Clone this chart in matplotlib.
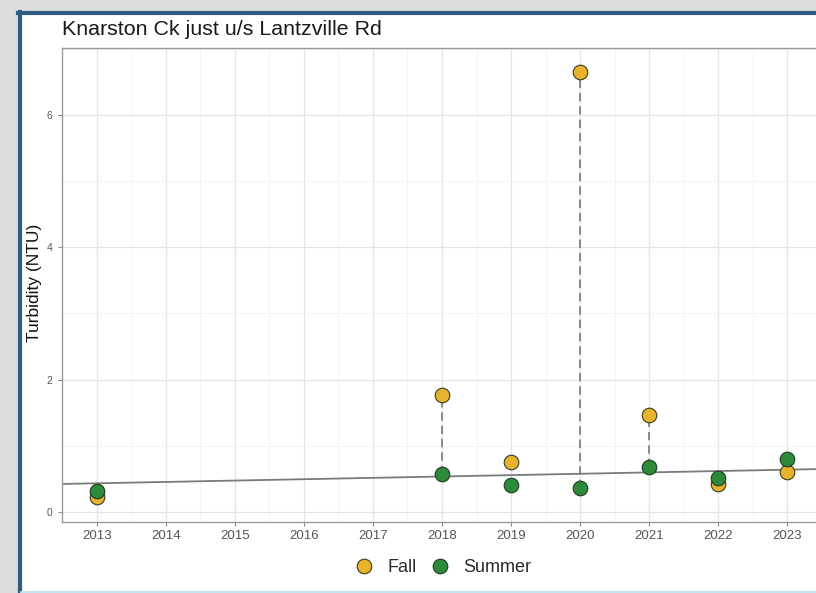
import numpy as np
import matplotlib
matplotlib.use("Agg")
import matplotlib.pyplot as plt
from matplotlib.lines import Line2D
from matplotlib.patches import Rectangle
from matplotlib.ticker import MultipleLocator

plt.rcParams['font.family'] = ['Liberation Sans', 'DejaVu Sans']

# turbidity by sampling season
years = [2013, 2018, 2019, 2020, 2021, 2022, 2023]
fall = [0.22, 1.77, 0.75, 6.66, 1.47, 0.42, 0.60]
summer = [0.32, 0.57, 0.41, 0.36, 0.68, 0.51, 0.80]

# years where the fall value is joined down to summer
joined_years = [2018, 2020, 2021]

# fitted trend (NTU per year)
trend_intercept = 0.42
trend_slope = 0.0206
trend_base_year = 2012.5

x_ticks = list(range(2013, 2024))
y_ticks = [0, 2, 4, 6]

fall_col = '#E8B32C'
summer_col = '#2C8A3A'

fig = plt.figure(figsize=(8.16, 5.93), dpi=100)
fig.patch.set_facecolor('#dcdedc')

# white card with a blue frame behind the plot
fig.patches.append(Rectangle((21 / 816, 2 / 593), 1.0, 1 - 16 / 593,
                             transform=fig.transFigure, facecolor='white',
                             edgecolor='none', zorder=-5))
fig.add_artist(Line2D([19.5 / 816, 19.5 / 816], [1.5 / 593, 1 - 12 / 593],
                      transform=fig.transFigure, color='#2d5a80', lw=3))
fig.add_artist(Line2D([18 / 816, 1.0], [1 - 12.5 / 593, 1 - 12.5 / 593],
                      transform=fig.transFigure, color='#2d5a80', lw=3))
fig.add_artist(Line2D([21 / 816, 1.0], [1.5 / 593, 1.5 / 593],
                      transform=fig.transFigure, color='#bfe6f2', lw=2))

ax = fig.add_axes([0.0762, 0.1192, 0.9309, 0.8003])
ax.set_facecolor('white')
ax.set_xlim(2012.5, 2023.5)
ax.set_ylim(-0.16, 7.02)

ax.set_xticks(x_ticks)
ax.set_yticks(y_ticks)
ax.xaxis.set_minor_locator(MultipleLocator(0.5))
ax.yaxis.set_minor_locator(MultipleLocator(1))
ax.grid(which='major', color='#e4e4e4', lw=0.9)
ax.grid(which='minor', color='#f3f3f3', lw=0.6)
ax.set_axisbelow(True)

for sp in ax.spines.values():
    sp.set_color('#9a9a9a')
    sp.set_linewidth(1.0)

ax.tick_params(axis='x', which='major', length=3, width=0.8, color='#8a8a8a',
               labelsize=9.5, labelcolor='#555555', pad=2.5)
ax.tick_params(axis='y', which='major', length=3, width=0.8, color='#8a8a8a',
               labelsize=7.5, labelcolor='#555555', pad=4)
ax.tick_params(which='minor', length=0)

# trend line across the whole panel
ax.axline((trend_base_year, trend_intercept), slope=trend_slope,
          color='#7a7a7a', lw=1.3, zorder=2)

# dashed connectors fall -> summer
for yr, f, s in zip(years, fall, summer):
    if yr in joined_years:
        ax.plot([yr, yr], [s, f], color='#777777', lw=1.2,
                ls=(0, (5, 3)), zorder=3)

ax.plot(years, fall, 'o', ms=10.5, mfc=fall_col, mec='#3a3a20', mew=0.8,
        ls='none', zorder=4, label='Fall')
ax.plot(years, summer, 'o', ms=10.5, mfc=summer_col, mec='#1e3a20', mew=0.8,
        ls='none', zorder=5, label='Summer')

fig.text(34 / 816, 1 - 283 / 593, 'Turbidity (NTU)', fontsize=12.5,
         color='#111111', rotation=90, ha='center', va='center')
fig.text(62 / 816, 1 - 35 / 593, 'Knarston Ck just u/s Lantzville Rd',
         fontsize=15.4, color='#1a1a1a', ha='left', va='baseline')

fig.legend(loc='center', bbox_to_anchor=(0.543, 1 - 568 / 593), ncol=2,
           frameon=False, fontsize=13, handlelength=1.0, handletextpad=0.8,
           columnspacing=0.8, labelcolor='#2a2a2a')

fig.savefig('out.png', dpi=100, facecolor=fig.get_facecolor())
